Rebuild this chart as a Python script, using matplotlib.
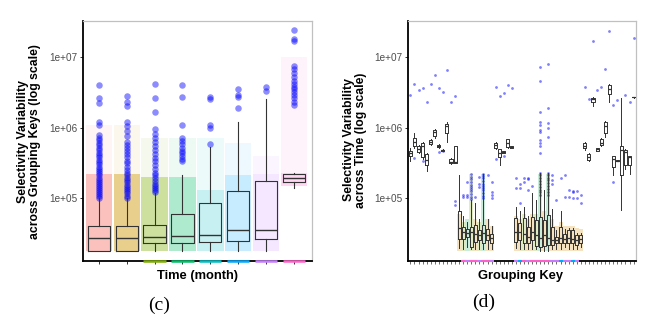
import numpy as np
import matplotlib
matplotlib.use("Agg")
import matplotlib.pyplot as plt
from matplotlib.ticker import NullLocator

plt.rcParams['font.family'] = ['Liberation Sans', 'DejaVu Sans']

# ---------------- panel (c): per month ----------------
months = [1, 2, 3, 4, 5, 6, 7, 8]
month_colors = ['#F8766D', '#CD9600', '#7CAE00', '#00BE67',
                '#00BFC4', '#00A9FF', '#C77CFF', '#FF61CC']

c_lo  = [1.8e4, 1.8e4, 1.8e4, 1.8e4, 1.8e4, 1.8e4, 1.8e4, 1.4e5]
c_q1  = [1.8e4, 1.8e4, 2.3e4, 2.27e4, 2.4e4, 2.48e4, 2.6e4, 1.7e5]
c_med = [2.7e4, 2.7e4, 2.8e4, 2.86e4, 3.0e4, 3.55e4, 3.5e4, 1.95e5]
c_q3  = [4.0e4, 4.0e4, 4.2e4, 6.0e4, 8.4e4, 1.26e5, 1.75e5, 2.2e5]
c_hi  = [1.0e5, 1.0e5, 1.18e5, 2.1e5, 5.3e5, 1.2e6, 2.5e6, 2.25e5]

# jitter clouds (dense band / sparse band upper limit)
c_cloud_lo     = [1.8e4, 1.8e4, 1.8e4, 1.8e4, 1.8e4, 1.8e4, 1.8e4, 1.5e5]
c_cloud_dense  = [2.2e5, 2.2e5, 2.0e5, 2.0e5, 1.3e5, 2.1e5, 2.2e5, 2.3e5]
c_cloud_sparse = [1.1e6, 1.1e6, 7.0e5, 7.0e5, 7.0e5, 6.0e5, 4.0e5, 1.0e7]

c_out = [
    [1.0e5, 1.07e5, 1.15e5, 1.22e5, 1.3e5, 1.4e5, 1.5e5, 1.6e5, 1.7e5, 1.8e5,
     1.95e5, 2.1e5, 2.25e5, 2.4e5, 2.6e5, 2.8e5, 3.0e5, 3.2e5, 3.5e5, 3.8e5,
     4.1e5, 4.4e5, 4.8e5, 5.2e5, 5.6e5, 6.1e5, 6.6e5, 7.2e5, 7.8e5, 1.1e6,
     1.2e6, 2.2e6, 2.6e6, 4.0e6],
    [1.0e5, 1.08e5, 1.16e5, 1.25e5, 1.35e5, 1.45e5, 1.55e5, 1.67e5, 1.8e5,
     1.95e5, 2.1e5, 2.3e5, 2.5e5, 2.8e5, 3.1e5, 3.4e5, 3.8e5, 4.2e5, 4.6e5,
     5.1e5, 5.6e5, 6.2e5, 7.5e5, 8.8e5, 1.05e6, 1.2e6, 2.0e6, 2.3e6, 2.8e6],
    [1.2e5, 1.3e5, 1.4e5, 1.5e5, 1.6e5, 1.75e5, 1.9e5, 2.1e5, 2.3e5, 2.6e5,
     2.9e5, 3.3e5, 3.7e5, 4.2e5, 4.8e5, 5.5e5, 6.2e5, 7.0e5, 8.0e5, 9.5e5,
     1.65e6, 2.65e6, 4.1e6],
    [3.3e5, 3.6e5, 3.9e5, 4.3e5, 4.7e5, 5.2e5, 5.8e5, 6.4e5, 7.0e5, 1.1e6,
     2.7e6, 4.0e6],
    [5.9e5, 1.0e6, 1.08e6, 2.5e6, 2.7e6],
    [1.9e6, 2.7e6, 2.9e6, 3.5e6],
    [3.3e6, 3.7e6],
    [2.1e6, 2.3e6, 2.6e6, 2.9e6, 3.2e6, 3.5e6, 3.8e6, 4.2e6, 4.6e6, 5.2e6,
     6.0e6, 6.8e6, 7.5e6, 1.7e7, 1.8e7, 2.4e7],
]
c_rug = [3, 4, 5, 6, 7, 8]

# ---------------- panel (d): per grouping key ----------------
n_keys = 56
d_grp = list(range(1, 57))
d_lo  = [3.4e5, 5.2e5, 4.3e5, 3.6e5, 2.4e5, 5.6e5, 7.0e5, 5.1e5, 4.6e5, 6.2e5, 3.0e5, 3.1e5,
         1.93e4, 1.9e4, 2.0e4, 1.9e4, 1.9e4, 1.9e4, 1.9e4, 1.9e4, 1.9e4,
         4.9e5, 2.9e5, 4.3e5, 5.2e5, 5.1e5,
         1.95e4, 1.9e4, 1.9e4, 1.9e4, 1.9e4, 1.9e4, 1.8e4, 1.8e4, 1.8e4, 1.9e4, 1.9e4,
         1.9e4, 2.0e4, 1.9e4, 1.9e4, 1.9e4, 2.0e4,
         4.8e5, 3.4e5, 2.0e6, 4.6e5, 5.5e5, 7.4e5, 2.3e6, 2.1e5, 3.3e5, 6.7e4, 2.6e5, 2.2e5, 2.65e6]
d_q1  = [3.9e5, 5.5e5, 4.5e5, 3.8e5, 2.9e5, 5.8e5, 7.6e5, 5.3e5, 4.7e5, 8.4e5, 3.1e5, 3.1e5,
         2.6e4, 2.6e4, 2.8e4, 2.03e4, 2.4e4, 2.5e4, 2.3e4, 2.5e4, 2.3e4,
         5.1e5, 3.8e5, 4.4e5, 5.3e5, 5.2e5,
         2.4e4, 2.5e4, 2.3e4, 2.3e4, 2.5e4, 2.1e4, 2.03e4, 2.1e4, 2.15e4, 2.15e4, 2.3e4,
         2.3e4, 2.3e4, 2.3e4, 2.3e4, 2.15e4, 2.3e4,
         5.1e5, 3.5e5, 2.3e6, 4.7e5, 5.6e5, 8.4e5, 3.0e6, 2.8e5, 3.35e5, 2.1e5, 2.9e5, 2.9e5, 2.68e6]
d_med = [4.3e5, 6.2e5, 5.0e5, 5.5e5, 3.5e5, 6.2e5, 8.5e5, 5.5e5, 4.75e5, 1.05e6, 3.2e5, 3.2e5,
         3.7e4, 3.3e4, 3.2e4, 3.3e4, 3.1e4, 3.0e4, 3.2e4, 3.0e4, 2.7e4,
         5.6e5, 4.4e5, 4.5e5, 6.0e5, 5.3e5,
         3.3e4, 3.3e4, 3.1e4, 2.8e4, 3.3e4, 3.0e4, 2.7e4, 3.0e4, 2.7e4, 2.5e4, 2.5e4,
         2.7e4, 2.6e4, 2.7e4, 2.6e4, 2.5e4, 2.6e4,
         5.5e5, 3.8e5, 2.5e6, 4.9e5, 6.1e5, 1.05e6, 3.5e6, 3.6e5, 3.4e5, 4.8e5, 4.5e5, 3.8e5, 2.7e6]
d_q3  = [4.6e5, 7.0e5, 5.5e5, 6.0e5, 4.2e5, 6.6e5, 9.2e5, 5.7e5, 4.8e5, 1.14e6, 3.6e5, 5.5e5,
         6.5e4, 3.9e4, 3.6e4, 3.9e4, 4.1e4, 3.5e4, 4.1e4, 3.6e4, 3.1e4,
         6.0e5, 4.9e5, 4.6e5, 6.8e5, 5.4e5,
         5.2e4, 4.4e4, 5.2e4, 3.9e4, 5.4e4, 4.9e4, 5.4e4, 4.9e4, 5.7e4, 3.9e4, 2.8e4,
         3.9e4, 3.1e4, 3.5e4, 3.5e4, 3.0e4, 3.0e4,
         6.0e5, 4.2e5, 2.6e6, 5.1e5, 6.8e5, 1.2e6, 4.0e6, 3.9e5, 3.45e5, 5.45e5, 4.8e5, 3.9e5, 2.72e6]
d_hi  = [5.2e5, 8.4e5, 5.6e5, 6.2e5, 4.4e5, 6.8e5, 9.5e5, 5.8e5, 4.9e5, 1.2e6, 3.7e5, 5.5e5,
         2.1e5, 5.5e4, 4.5e4, 9.4e4, 8.4e4, 5.0e4, 2.2e5, 5.0e4, 4.0e4,
         6.2e5, 5.0e5, 4.7e5, 6.9e5, 5.5e5,
         7.5e4, 6.5e4, 7.5e4, 5.5e4, 1.17e5, 9.4e4, 2.3e5, 1.3e5, 2.3e5, 6.9e4, 3.5e4,
         6.5e4, 3.6e4, 3.7e4, 3.7e4, 3.2e4, 3.2e4,
         6.2e5, 4.3e5, 2.7e6, 5.2e5, 7.0e5, 1.25e6, 4.1e6, 4.0e5, 3.5e5, 2.6e6, 4.9e5, 4.0e5, 2.75e6]

d_out_grp = [1, 2, 3, 4, 5, 6, 7, 8, 9, 10, 11, 12, 2, 4, 8, 9,
             12, 12, 14, 14, 15, 15, 15,
             16, 16, 16, 16, 16, 16, 16, 16, 16, 16, 16,
             17, 18, 18, 18,
             19, 19, 19, 19, 19, 19, 19, 19, 19, 19, 19,
             20, 21, 21, 21, 21,
             22, 23, 24, 25, 26, 22, 24,
             27, 27, 28, 28, 28, 29, 29, 30, 30, 30, 31,
             33, 33, 33, 33, 33, 33, 33, 33, 33, 33, 33,
             33, 33, 33, 33, 33, 33, 33, 33, 33,
             35, 35, 35, 35, 35,
             35, 35, 35, 35, 35, 35, 35, 35, 35,
             36, 36, 36, 37, 38, 39, 40, 41, 41, 42, 43,
             39, 40, 41, 42, 43,
             44, 45, 46, 47, 48, 49, 50, 51, 52, 54, 55, 56, 51]
d_out_val = [2.9e6, 4.1e6, 3.4e6, 3.6e6, 2.3e6, 4.2e6, 5.6e6, 3.6e6, 3.2e6, 6.6e6, 2.3e6, 2.8e6,
             3.7e5, 3.3e5, 4.5e5, 4.6e5,
             9.0e4, 8.0e4, 1.1e5, 1.04e5, 1.7e5, 1.1e5, 1.05e5,
             2.2e5, 2.0e5, 1.85e5, 1.7e5, 1.55e5, 1.45e5, 1.35e5, 1.25e5, 1.15e5, 1.05e5, 9.8e4,
             1.05e5, 2.0e5, 1.6e5, 1.45e5,
             2.2e5, 2.05e5, 1.9e5, 1.75e5, 1.6e5, 1.5e5, 1.38e5, 1.28e5, 1.18e5, 1.08e5, 1.0e5,
             2.1e5, 1.7e5, 1.2e5, 1.1e5, 1.0e5,
             3.8e6, 2.8e6, 3.1e6, 4.0e6, 3.6e6, 3.6e5, 3.9e5,
             1.9e5, 1.37e5, 1.6e5, 1.37e5, 8.4e4, 1.95e5, 1.7e5, 1.95e5, 1.85e5, 1.3e5, 1.5e5,
             7.1e6, 4.5e6, 1.66e6, 1.2e6, 1.1e6, 9.2e5, 8.5e5, 6.6e5, 6.0e5, 5.5e5, 4.3e5,
             2.3e5, 2.1e5, 1.9e5, 1.75e5, 1.6e5, 1.45e5, 1.3e5, 1.2e5, 1.1e5,
             7.9e6, 1.9e6, 1.15e6, 1.0e6, 7.4e5,
             2.3e5, 2.1e5, 1.95e5, 1.8e5, 1.65e5, 1.5e5, 1.35e5, 1.22e5, 1.1e5,
             2.1e5, 1.8e5, 1.6e5, 9.5e4, 1.9e5, 2.1e5, 1.3e5, 1.25e5, 1.2e5, 1.25e5, 1.1e5,
             1.02e5, 1.05e5, 1.0e5, 1.0e5, 8.6e4,
             3.7e6, 2.5e6, 1.66e7, 3.4e6, 3.7e6, 6.7e6, 2.3e7, 2.1e6, 2.45e6, 2.9e6, 2.3e6, 1.86e7, 1.7e5]

# coloured jitter clouds under the low boxes (month colour index per key)
d_cloud_grp = [13, 14, 15, 16, 17, 18, 19, 20, 21,
               27, 28, 29, 30, 31, 32, 33, 34, 35, 36, 37, 38, 39, 40, 41, 42, 43]
d_cloud_lo  = [1.8e4] * 9 + [1.8e4] * 17
d_cloud_hi  = [6.0e4, 4.5e4, 5.0e4, 2.2e5, 5.0e4, 4.5e4, 2.2e5, 5.0e4, 4.0e4,
               5.5e4, 5.0e4, 6.0e4, 5.0e4, 6.0e4, 6.0e4, 2.2e5, 6.5e4, 2.2e5, 5.0e4, 4.0e4,
               4.5e4, 4.0e4, 4.0e4, 4.0e4, 3.8e4, 3.6e4]
d_cloud_col = [1, 2, 3, 2, 1, 2, 3, 1, 1,
               1, 1, 2, 1, 1, 2, 3, 1, 3, 1, 1, 1, 1, 1, 1, 1, 1]
d_rug_grp = [14, 15, 16, 17, 18, 19, 20, 21,
             27, 28, 29, 30, 31, 32, 33, 34, 35, 36, 37, 38, 39, 40, 41, 42]
d_rug_col = [7, 6, 7, 7, 6, 7, 7, 6,
             6, 5, 7, 6, 7, 7, 7, 7, 7, 6, 6, 5, 6, 6, 5, 6]

# ---------------- drawing ----------------
W, H = 664, 324
fig = plt.figure(figsize=(W / 100, H / 100), dpi=100)

ymin, ymax = 1.28e4, 3.24e7
box_col = '#333333'


def style_axes(ax):
    ax.set_yscale('log')
    ax.set_ylim(ymin, ymax)
    ax.set_yticks([1e5, 1e6, 1e7])
    ax.set_yticklabels(['1e+05', '1e+06', '1e+07'])
    ax.yaxis.set_minor_locator(NullLocator())
    for s in ['left', 'bottom']:
        ax.spines[s].set_color('black')
        ax.spines[s].set_linewidth(1.3)
    for s in ['top', 'right']:
        ax.spines[s].set_color('#C0C0C0')
        ax.spines[s].set_linewidth(0.9)
    ax.tick_params(axis='both', length=2.5, width=0.7, color='#333333',
                   labelsize=7.2, labelcolor='#4D4D4D', pad=1.5)
    ax.set_xticklabels([])


def stats_list(pos, lo, q1, med, q3, hi):
    return [dict(whislo=a, q1=b, med=c, q3=d, whishi=e, fliers=[])
            for a, b, c, d, e in zip(lo, q1, med, q3, hi)]


# panel (c)
ax1 = fig.add_axes([83 / W, 1 - 261 / H, 229 / W, 240 / H])
ax1.set_xlim(0.43, 8.65)
dense_alpha = [0.45, 0.45, 0.38, 0.32, 0.22, 0.22, 0.18, 0.25]
for i, m in enumerate(months):
    ax1.bar(m, c_cloud_dense[i] - c_cloud_lo[i], bottom=c_cloud_lo[i], width=0.95,
            color=month_colors[i], alpha=dense_alpha[i], lw=0, zorder=1)
    ax1.bar(m, c_cloud_sparse[i] - c_cloud_dense[i], bottom=c_cloud_dense[i], width=0.95,
            color=month_colors[i], alpha=0.07, lw=0, zorder=1)
    ax1.scatter([m] * len(c_out[i]), c_out[i], s=22, color='blue', alpha=0.45,
                lw=0, zorder=3)
ax1.bxp(stats_list(months, c_lo, c_q1, c_med, c_q3, c_hi), positions=months,
        widths=0.8, showfliers=False, showcaps=False, manage_ticks=False,
        boxprops=dict(color=box_col, lw=0.8),
        whiskerprops=dict(color=box_col, lw=0.8),
        medianprops=dict(color=box_col, lw=1.0), zorder=4)
for m in c_rug:
    ax1.hlines(ymin, m - 0.4, m + 0.4, color=month_colors[m - 1], lw=1.8,
               clip_on=False, zorder=5)
style_axes(ax1)
ax1.set_xticks(months)
ax1.set_xticklabels([])

# panel (d)
ax2 = fig.add_axes([408 / W, 1 - 261 / H, 228 / W, 240 / H])
ax2.set_xlim(0.4, n_keys + 0.6)
cloud_cols = ['#F8766D', '#E0A030', '#9BBF3A', '#4CC38A']
for g, lo, hi, c in zip(d_cloud_grp, d_cloud_lo, d_cloud_hi, d_cloud_col):
    ax2.bar(g, hi - lo, bottom=lo, width=1.0, color=cloud_cols[c], alpha=0.3,
            lw=0, zorder=1)
ax2.scatter(d_out_grp, d_out_val, s=4, color='blue', alpha=0.5, lw=0, zorder=3)
ax2.bxp(stats_list(d_grp, d_lo, d_q1, d_med, d_q3, d_hi), positions=d_grp,
        widths=0.75, showfliers=False, showcaps=False, manage_ticks=False,
        boxprops=dict(color=box_col, lw=0.7),
        whiskerprops=dict(color=box_col, lw=0.7),
        medianprops=dict(color=box_col, lw=0.9), zorder=4)
for g, c in zip(d_rug_grp, d_rug_col):
    ax2.hlines(ymin, g - 0.5, g + 0.5, color=month_colors[c], lw=1.5,
               clip_on=False, zorder=5)
style_axes(ax2)
ax2.set_xticks(d_grp)
ax2.set_xticklabels([])
ax2.tick_params(axis='x', length=2, width=0.5)

# labels
lab = dict(fontsize=8.8, fontweight='bold', color='black')
fig.text(29 / W, 1 - 142 / H, "Selectivity Variability\nacross Grouping Keys (log scale)",
         rotation=90, ha='center', va='center', multialignment='center',
         linespacing=1.0, **lab)
fig.text(355 / W, 1 - 140 / H, "Selectivity Variability\nacross Time (log scale)",
         rotation=90, ha='center', va='center', multialignment='center',
         linespacing=1.0, **lab)
fig.text(197 / W, 1 - 276 / H, "Time (month)", ha='center', va='center',
         fontsize=9.3, fontweight='bold')
fig.text(521 / W, 1 - 276 / H, "Grouping Key", ha='center', va='center',
         fontsize=9.3, fontweight='bold')
fig.text(159 / W, 1 - 305 / H, "(c)", ha='center', va='center', fontsize=14,
         family='Liberation Serif')
fig.text(484 / W, 1 - 302 / H, "(d)", ha='center', va='center', fontsize=14,
         family='Liberation Serif')

fig.savefig("out.png", dpi=100)
